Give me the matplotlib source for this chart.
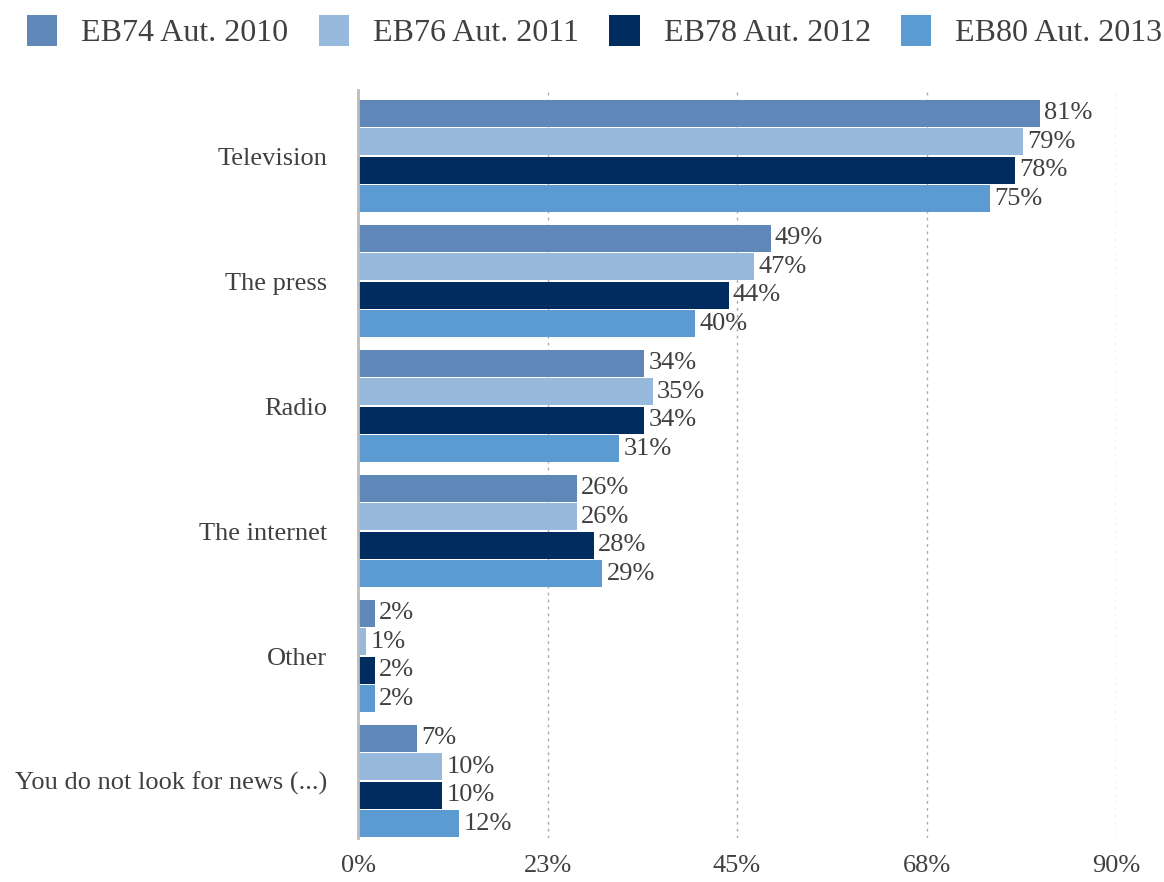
import numpy as np
import matplotlib.pyplot as plt

categories = ['Television', 'The press', 'Radio', 'The internet', 'Other',
              'You do not look for news (...)']
series = ['EB74 Aut. 2010', 'EB76 Aut. 2011', 'EB78 Aut. 2012', 'EB80 Aut. 2013']
eb74 = [81, 49, 34, 26, 2, 7]
eb76 = [79, 47, 35, 26, 1, 10]
eb78 = [78, 44, 34, 28, 2, 10]
eb80 = [75, 40, 31, 29, 2, 12]
colors = ['#5f87b8', '#96b9dc', '#002c5f', '#5b9bd2']
xticks = [0, 22.5, 45, 67.5, 90]
xtick_labels = ['0%', '23%', '45%', '68%', '90%']

plt.rcParams['font.family'] = ['Liberation Serif', 'DejaVu Serif']
txt = '#404040'

fig = plt.figure(figsize=(11.64, 8.82), dpi=100)
ax = fig.add_axes([0.3076, 0.0499, 0.6512, 0.848])

y = np.arange(len(categories))
step = 0.228
h = 0.215
for i, (name, vals) in enumerate(zip(series, [eb74, eb76, eb78, eb80])):
    pos = y + (i - 1.5) * step
    bars = ax.barh(pos, vals, height=h, color=colors[i], label=name, zorder=2)
    ax.bar_label(bars, labels=[f'{v}%' for v in vals], padding=3,
                 fontsize=19, color=txt)

ax.set_ylim(5.456, -0.528)
ax.set_xlim(0, 90)
ax.set_yticks(y)
ax.set_yticklabels(categories, fontsize=19, color=txt)
ax.set_xticks(xticks)
ax.set_xticklabels(xtick_labels, fontsize=19, color=txt)
ax.tick_params(axis='y', length=0, pad=22)
ax.tick_params(axis='x', length=0, pad=12)

for x in xticks[1:]:
    ax.axvline(x, color='#aaaaaa', linestyle=(0, (2, 3)), linewidth=1, zorder=1)

for s in ['top', 'right', 'bottom']:
    ax.spines[s].set_visible(False)
ax.spines['left'].set_color('#bbbbbb')
ax.spines['left'].set_linewidth(2)
ax.spines['left'].set_zorder(3)

fig.legend(loc='upper center', bbox_to_anchor=(0.511, 1.008), ncol=4, frameon=False,
           fontsize=23, labelcolor=txt, handlelength=0.95, handleheight=1.1,
           handletextpad=0.75, columnspacing=0.95, borderaxespad=0.3)

plt.savefig('out.png', dpi=100)
